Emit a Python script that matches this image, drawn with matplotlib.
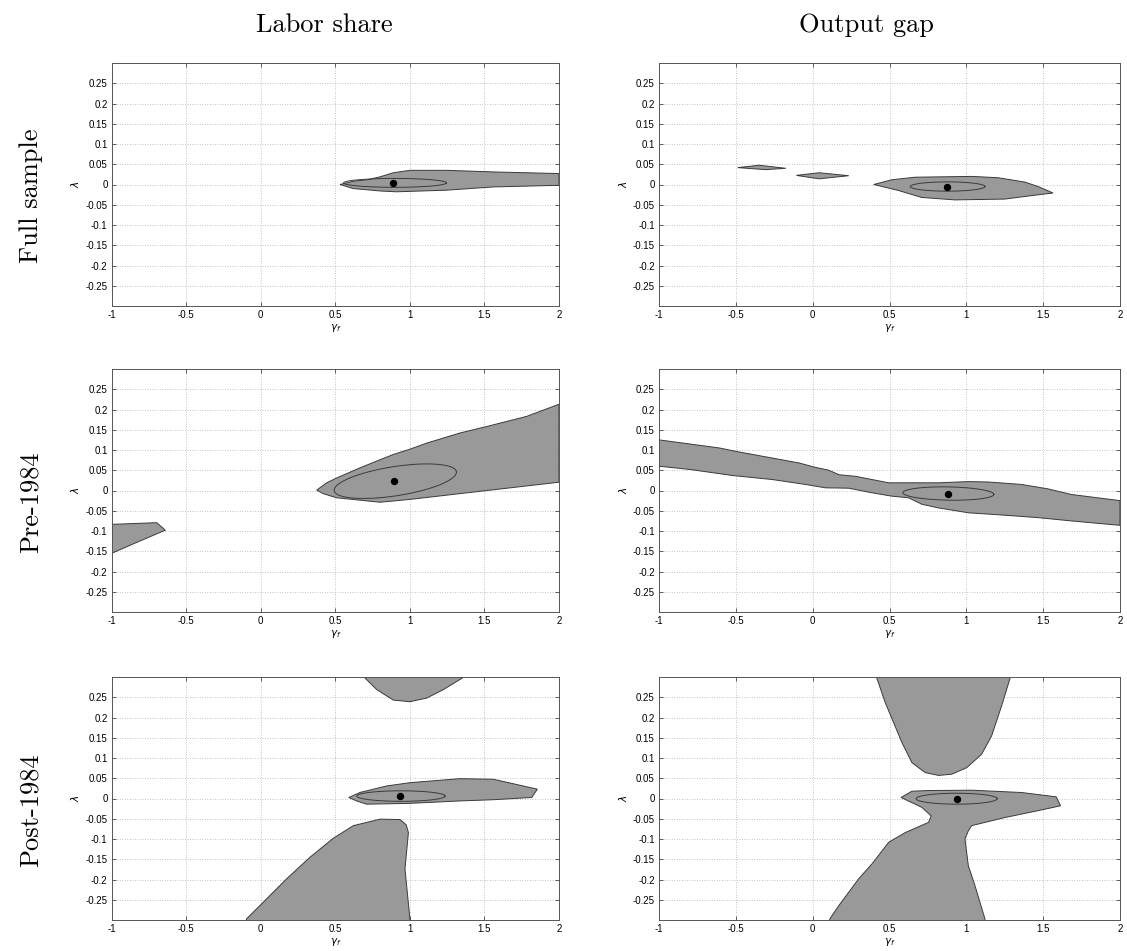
import numpy as np
import matplotlib
matplotlib.use("Agg")
import matplotlib.pyplot as plt

plt.rcParams['font.family'] = ['Liberation Sans', 'DejaVu Sans']

col_titles = ['Labor share', 'Output gap']
row_titles = ['Full sample', 'Pre-1984', 'Post-1984']
xticks = [-1, -0.5, 0, 0.5, 1, 1.5, 2]
yticks = [-0.25, -0.2, -0.15, -0.1, -0.05, 0, 0.05, 0.1, 0.15, 0.2, 0.25]
ytick_labels = ['-0.25', '-0.2', '-0.15', '-0.1', '-0.05', '0', '0.05', '0.1', '0.15', '0.2', '0.25']

# confidence regions (gamma_f, lambda)
ls_full = [
    [(0.531, 0.0), (0.62, 0.008), (0.72, 0.012), (0.80, 0.019), (0.889, 0.029), (1.0, 0.035), (1.247, 0.035),
     (1.56, 0.031), (2.0, 0.027), (2.0, -0.002), (1.56, -0.006), (1.247, -0.014), (0.91, -0.018),
     (0.80, -0.016), (0.62, -0.01)],
]
og_full = [
    [(-0.488, 0.0417), (-0.347, 0.0475), (-0.175, 0.040), (-0.305, 0.0367)],
    [(-0.106, 0.0225), (0.041, 0.029), (0.235, 0.0217), (0.041, 0.014)],
    [(0.397, 0.0), (0.516, 0.0117), (0.667, 0.018), (1.035, 0.020), (1.207, 0.0167), (1.38, 0.006),
     (1.467, -0.005), (1.564, -0.021), (1.423, -0.0275), (1.25, -0.036), (0.927, -0.038),
     (0.71, -0.032), (0.56, -0.015)],
]
ls_pre = [
    [(0.375, 0.001), (0.442, 0.019), (0.509, 0.031), (0.666, 0.056), (0.80, 0.076), (0.889, 0.089),
     (1.0, 0.102), (1.113, 0.117), (1.336, 0.142), (1.515, 0.158), (1.783, 0.183), (2.0, 0.213),
     (2.0, 0.0205), (1.0, -0.022), (0.80, -0.029), (0.509, -0.018), (0.42, -0.008)],
    [(-1.0, -0.0836), (-0.698, -0.0795), (-0.640, -0.098), (-0.81, -0.1246), (-1.0, -0.155)],
]
og_pre = [
    [(-1.0, 0.125), (-0.607, 0.105), (-0.477, 0.095), (-0.261, 0.080), (-0.089, 0.068), (0.019, 0.057),
     (0.106, 0.050), (0.171, 0.039), (0.279, 0.035), (0.387, 0.027), (0.495, 0.019), (0.819, 0.019),
     (1.013, 0.022), (1.143, 0.021), (1.358, 0.015), (1.531, 0.004), (1.683, -0.0098), (2.0, -0.025),
     (2.0, -0.086), (1.68, -0.075), (1.467, -0.067), (1.25, -0.061), (1.013, -0.055), (0.819, -0.043),
     (0.711, -0.034), (0.624, -0.018), (0.516, -0.014), (0.387, -0.0057), (0.235, 0.0057),
     (0.084, 0.0066), (-0.045, 0.0148), (-0.261, 0.027), (-0.521, 0.037), (-0.80, 0.052), (-1.0, 0.060)],
]
ls_post = [
    [(0.692, 0.31), (0.692, 0.30), (0.777, 0.269), (0.889, 0.243), (1.0, 0.239), (1.113, 0.248),
     (1.225, 0.269), (1.363, 0.30), (1.363, 0.31)],
    [(0.590, 0.0025), (0.666, 0.015), (0.845, 0.031), (1.0, 0.039), (1.336, 0.049), (1.56, 0.0475),
     (1.855, 0.023), (1.817, 0.0025), (1.56, -0.003), (1.336, -0.006), (1.0, -0.012), (0.71, -0.014),
     (0.643, -0.006)],
    [(-0.105, -0.31), (-0.095, -0.297), (-0.005, -0.264), (0.174, -0.198), (0.33, -0.145), (0.487, -0.098),
     (0.621, -0.067), (0.80, -0.051), (0.934, -0.052), (0.975, -0.065), (0.990, -0.084), (0.967, -0.174),
     (1.0, -0.297), (1.0, -0.31)],
]
og_post = [
    [(0.415, 0.31), (0.415, 0.30), (0.473, 0.236), (0.581, 0.138), (0.646, 0.0885), (0.732, 0.064),
     (0.819, 0.057), (0.905, 0.060), (1.002, 0.076), (1.099, 0.109), (1.164, 0.154), (1.229, 0.228),
     (1.287, 0.30), (1.287, 0.31)],
    [(0.575, 0.0025), (0.646, 0.018), (0.754, 0.0197), (1.035, 0.0205), (1.359, 0.0148), (1.585, 0.0041),
     (1.613, -0.018), (1.467, -0.030), (1.251, -0.047), (1.035, -0.067), (1.013, -0.080), (0.991, -0.100),
     (1.013, -0.166), (1.056, -0.215), (1.121, -0.297), (1.125, -0.31), (0.105, -0.31), (0.112, -0.297),
     (0.171, -0.264), (0.30, -0.198), (0.387, -0.161), (0.495, -0.108), (0.603, -0.084), (0.754, -0.059),
     (0.771, -0.043), (0.711, -0.022)],
]

# inner ellipses: centre x, centre y, half width, half height, shear
ell_params = [
    [(0.90, 0.004, 0.345, 0.011, 0.0), (0.878, -0.005, 0.243, 0.0115, 0.0)],
    [(0.902, 0.023, 0.41, 0.0365, 0.054), (0.883, -0.0075, 0.296, 0.0164, -0.007)],
    [(0.94, 0.006, 0.296, 0.013, 0.0), (0.937, -0.0005, 0.264, 0.0135, 0.0)],
]
# point estimates
dot_x = [[0.889, 0.873], [0.896, 0.883], [0.934, 0.937]]
dot_y = [[0.004, -0.005], [0.0246, -0.008], [0.0057, 0.0]]

regions = [[ls_full, og_full], [ls_pre, og_pre], [ls_post, og_post]]

W, H = 1127, 951
fig = plt.figure(figsize=(W / 100, H / 100), dpi=100)

col_left = [111.7, 659]
col_width = [447.3, 461]
row_top = [63, 369, 677]
ax_h = 243
title_x = [324, 866]
row_y = [196, 502, 810]

for r in range(3):
    for c in range(2):
        ax = fig.add_axes([col_left[c] / W, 1 - (row_top[r] + ax_h) / H, col_width[c] / W, ax_h / H])
        ax.set_xlim(-1, 2)
        ax.set_ylim(-0.3, 0.3)
        for poly in regions[r][c]:
            px = [p[0] for p in poly]
            py = [p[1] for p in poly]
            ax.fill(px, py, facecolor='#999999', edgecolor='#3a3a3a', linewidth=0.7, zorder=2)
        cx, cy, rx, ry, k = ell_params[r][c]
        t = np.linspace(0, 2 * np.pi, 200)
        ax.plot(cx + rx * np.cos(t), cy + ry * np.sin(t) + k * rx * np.cos(t),
                color='#3a3a3a', linewidth=0.7, zorder=3)
        ax.plot(dot_x[r][c], dot_y[r][c], 'o', color='black', markersize=4.3, zorder=4)

        ax.set_xticks(xticks)
        ax.set_xticklabels([('%g' % v) for v in xticks])
        ax.set_yticks(yticks)
        ax.set_yticklabels(ytick_labels)
        ax.grid(True, color='#b0b0b0', linestyle=(0, (1, 2)), linewidth=0.6, zorder=1)
        ax.set_axisbelow(True)
        ax.tick_params(direction='in', length=3, width=0.6, top=True, right=True,
                       labelsize=7, color='#444444', pad=3)
        for s in ax.spines.values():
            s.set_color('#555555')
            s.set_linewidth(0.7)
        ax.set_xlabel(r'$\gamma_f$', fontsize=7.5, labelpad=1)
        ax.set_ylabel(r'$\lambda$', fontsize=7.5, labelpad=3)

for c in range(2):
    fig.text(title_x[c] / W, 1 - 32 / H, col_titles[c], family='cmr10', fontsize=19,
             ha='center', va='baseline')
for r in range(3):
    fig.text(31 / W, 1 - row_y[r] / H, row_titles[r], family='cmr10', fontsize=19,
             rotation=90, ha='center', va='center')

fig.savefig('out.png', dpi=100)
